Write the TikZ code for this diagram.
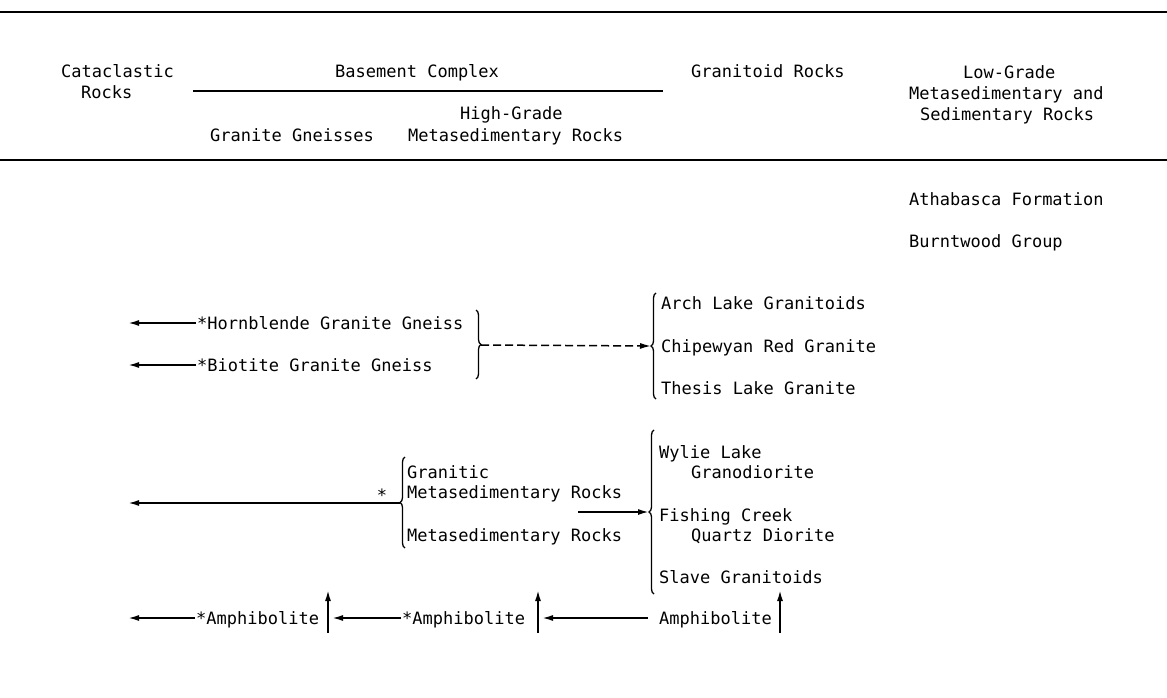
\documentclass[tikz,border=0pt]{standalone}
\usepackage{fontspec}
\newfontfamily\typefont{DejaVu Sans Mono}
\usepackage{tikz}
\usetikzlibrary{positioning, arrows.meta, decorations.pathreplacing}

\begin{document}
\begin{tikzpicture}[
    x=1pt, y=-1pt,
    unit/.style={anchor=west, inner sep=1pt, text height=12pt, text depth=0pt,
                 font=\typefont\fontsize{17}{21}\selectfont},
    hrule/.style={line width=1.6pt},
    arrow/.style={-{Latex[length=11pt, width=6pt]}, line width=1.8pt},
    dasharrow/.style={arrow, line width=1.5pt, dash pattern=on 8pt off 4pt},
    bracket/.style={decorate, decoration={brace, amplitude=5pt}, line width=1.3pt}
]
    \useasboundingbox (0, 0) rectangle (1167, 698);

    % Header
    \draw[hrule] (0, 12) -- (1167, 12);
    \node[unit] (cata1) at (60, 72) {Cataclastic};
    \node[unit] (cata2) at (80, 93) {Rocks};
    \node[unit] (base) at (334, 72) {Basement Complex};
    \draw[line width=1.2pt] (193, 91) -- (663, 91);
    \node[unit] (gneiss) at (209, 136) {Granite Gneisses};
    \node[unit] (hg1) at (459, 114) {High-Grade};
    \node[unit] (hg2) at (407, 136) {Metasedimentary Rocks};
    \node[unit] (gran) at (690, 72) {Granitoid Rocks};
    \node[unit] (lg1) at (962, 73) {Low-Grade};
    \node[unit] (lg2) at (908, 94) {Metasedimentary and};
    \node[unit] (lg3) at (919, 115) {Sedimentary Rocks};
    \draw[hrule] (0, 160) -- (1167, 160);

    % Left edge (cataclastic column)
    \coordinate (catedge) at (128, 0);

    % Low-grade units
    \node[unit] (atha) at (908, 199) {Athabasca Formation};
    \node[unit] (burnt) at (908, 241) {Burntwood Group};

    % Granite gneisses
    \node[unit] (hbl) at (196, 323) {*Hornblende Granite Gneiss};
    \node[unit] (bio) at (196, 365) {*Biotite Granite Gneiss};
    \draw[bracket] (476, 310) -- (476, 379);
    \coordinate (gnbr) at (481, 345);

    % Granitoids (upper)
    \draw[bracket] (656, 399) -- (656, 293);
    \coordinate (grbr) at (651, 346);
    \node[unit] (arch) at (660, 303) {Arch Lake Granitoids};
    \node[unit] (chip) at (660, 346) {Chipewyan Red Granite};
    \node[unit] (thesis) at (660, 388) {Thesis Lake Granite};

    % Metasedimentary rocks
    \node[unit, anchor=center] (star) at (382, 495) {*};
    \draw[bracket] (405, 548) -- (405, 457);
    \coordinate (mrbr) at (400, 503);
    \node[unit] (gmr1) at (406, 472) {Granitic};
    \node[unit] (gmr2) at (406, 492) {Metasedimentary Rocks};
    \node[unit] (mr) at (406, 535) {Metasedimentary Rocks};
    \coordinate (mrout) at (578, 512);

    % Granitoids (lower)
    \draw[bracket] (654, 594) -- (654, 430);
    \coordinate (slbr) at (649, 512);
    \node[unit] (wylie1) at (658, 452) {Wylie Lake};
    \node[unit] (wylie2) at (690, 472) {Granodiorite};
    \node[unit] (fish1) at (658, 515) {Fishing Creek};
    \node[unit] (fish2) at (690, 535) {Quartz Diorite};
    \node[unit] (slave) at (658, 577) {Slave Granitoids};

    % Amphibolites
    \node[unit] (amph1) at (195, 618) {*Amphibolite};
    \node[unit] (amph2) at (401, 618) {*Amphibolite};
    \node[unit] (amph3) at (658, 618) {Amphibolite};
    \coordinate (v1) at (328, 633);
    \coordinate (v1top) at (328, 590);
    \coordinate (v2) at (538, 633);
    \coordinate (v2top) at (538, 590);
    \coordinate (v3) at (780, 633);
    \coordinate (v3top) at (780, 590);

    % Arrows
    \draw[arrow] (hbl.west) -- (hbl.west -| catedge);
    \draw[arrow] (bio.west) -- (bio.west -| catedge);
    \draw[dasharrow] (gnbr) -- (grbr);
    \draw[arrow] (mrbr) -- (mrbr -| catedge);
    \draw[arrow] (mrout) -- (slbr);
    \draw[arrow] (amph1.west) -- (amph1.west -| catedge);
    \draw[arrow] (amph2.west) -- ([xshift=4pt]amph2.west -| v1);
    \draw[arrow, shorten <=10pt] (amph3.west) -- ([xshift=4pt]amph3.west -| v2);
    \draw[arrow] (v1) -- (v1top);
    \draw[arrow] (v2) -- (v2top);
    \draw[arrow] (v3) -- (v3top);

\end{tikzpicture}
\end{document}
